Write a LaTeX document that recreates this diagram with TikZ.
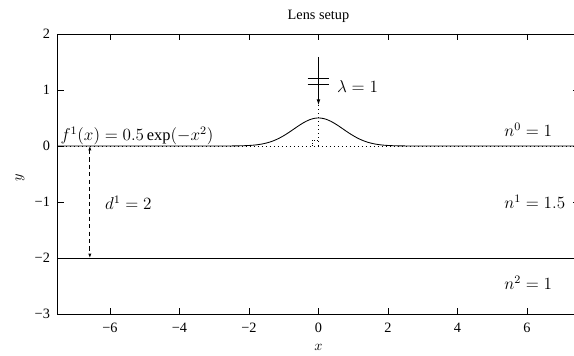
\documentclass[tikz,border=0pt]{standalone}
\usepackage{fontspec}
\setmainfont{Liberation Serif}
\usetikzlibrary{arrows.meta}
\begin{document}
\begin{tikzpicture}[x=24.325pt,y=39.2pt,
  axis/.style={line width=0.65pt},
  curve/.style={line width=0.6pt},
  tickline/.style={line width=0.6pt},
  ticklab/.style={font=\fontsize{10}{12}\selectfont, inner sep=0pt},
  mathlab/.style={font=\fontsize{11.5}{13}\selectfont, inner sep=0pt},
  dotline/.style={line width=0.6pt, dash pattern=on 0.6pt off 2.2pt},
  dashline/.style={line width=0.6pt, dash pattern=on 3pt off 2.2pt},
]
\useasboundingbox (-9.165,-3.75) rectangle (7.353,2.607);
\clip (-9.165,-3.75) rectangle (7.353,2.607);
% ticks
\foreach \t in {-6,-4,...,6}{
  \draw[tickline] (\t,-3) -- (\t,-2.893);
  \draw[tickline] (\t,2) -- (\t,1.893);
  \node[ticklab] (bx\t) at (\t,-3.25) {\ifnum\t<0 −\the\numexpr-\t\relax\else\t\fi};
}
\foreach \t in {-3,-2,-1,0,1,2}{
  \draw[tickline] (-7.5,\t) -- (-7.33,\t);
  \draw[tickline] (7.5,\t) -- (7.33,\t);
  \node[ticklab,anchor=east] (ly\t) at (-7.72,\t) {\ifnum\t<0 −\the\numexpr-\t\relax\else\t\fi};
}
% dotted baseline
\draw[dotline] (-7.5,0) -- (7.5,0);
% interface curve
\draw[curve] (-7.5,0) -- (-3,0) plot[domain=-3:3,samples=121,smooth] (\x,{0.5*exp(-\x*\x)}) -- (7.5,0);
% lower interface
\draw[curve] (-7.5,-2) -- (7.5,-2);
% axis box
\draw[axis] (-7.5,-3) rectangle (7.5,2);
% incident wave
\coordinate (wtop) at (0,1.59);
\coordinate (wtip) at (0,0.73);
\coordinate (peak) at (0,0.5);
\coordinate (base) at (0,0);
\draw[curve,-{Latex[length=4pt,width=2.6pt]}] (wtop) -- (wtip);
\draw[curve] (-0.31,1.214) -- (0.3,1.214);
\draw[curve] (-0.31,1.107) -- (0.3,1.107);
\draw[dotline] (wtip) -- (base);
\draw[line width=0.5pt, dash pattern=on 0.6pt off 1.2pt] (-0.18,0) -- (-0.18,0.1) -- (0,0.1);
% thickness arrow
\coordinate (dtop) at (-6.58,0);
\coordinate (dbot) at (-6.58,-2);
\draw[dashline,{Latex[length=3pt,width=2.2pt]}-{Latex[length=3pt,width=2.2pt]}] (dtop) -- (dbot);
% labels
\node[font=\fontsize{10}{12}\selectfont, inner sep=0pt] (title) at (0,2.32) {Lens setup};
\node[ticklab] (xlab) at (0,-3.59) {$x$};
\node[ticklab,rotate=90] (ylab) at (-8.59,-0.57) {$y$};
\node[mathlab,anchor=base west] (flab) at (-7.43,0.1) {$f^1(x)=0.5\exp(-x^2)$};
\node[mathlab,anchor=west] (dlab) at (-6.15,-1.02) {$d^1=2$};
\node[mathlab,anchor=west] (lam) at (0.53,1.06) {$\lambda=1$};
\node[mathlab,anchor=west] (n0) at (5.34,0.29) {$n^0=1$};
\node[mathlab,anchor=west] (n1) at (5.34,-1.0) {$n^1=1.5$};
\node[mathlab,anchor=west] (n2) at (5.34,-2.45) {$n^2=1$};
\end{tikzpicture}
\end{document}
